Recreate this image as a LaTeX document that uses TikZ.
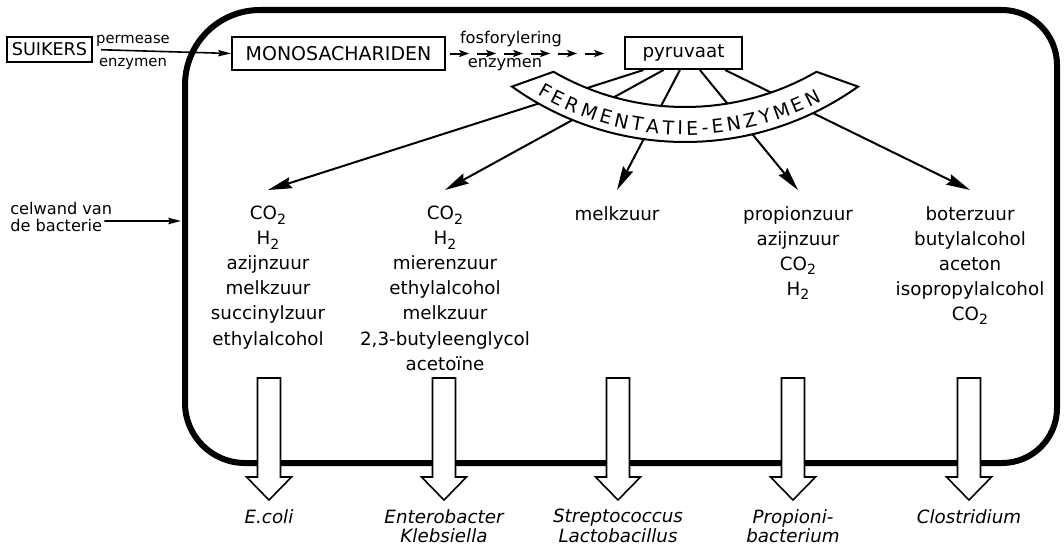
\documentclass[tikz,border=0pt]{standalone}
\usepackage{fontspec}
\setmainfont{DejaVu Sans}
\usepackage{tikz}
\usetikzlibrary{arrows.meta, decorations.text}
\newcommand{\twosub}{\raisebox{-0.45ex}{\fontsize{10}{10}\selectfont 2}}

\tikzset{
  box/.style={draw, line width=0.5mm, inner sep=0pt},
  smalltext/.style={inner sep=0pt, font=\fontsize{11.5}{12.5}\selectfont},
  coltext/.style={align=center, anchor=north, inner sep=0pt, font=\fontsize{13}{17.8}\selectfont},
  species/.style={align=center, anchor=north, inner sep=0pt, font=\fontsize{13}{13.8}\selectfont\itshape},
  fan/.style={line width=0.5mm, -{Stealth[length=17pt,width=8pt,inset=2pt]}},
  thinarrow/.style={line width=0.4mm, -{Stealth[length=9pt,width=4.5pt,inset=1pt]}},
  dasharrow/.style={line width=0.5mm, -{Stealth[length=7pt,width=5pt,inset=1.5pt]}},
  hollow/.style={line width=0.4mm, fill=white}
}

\begin{document}
\begin{tikzpicture}[x=0.025cm, y=0.025cm]
    \useasboundingbox (0,0) rectangle (1064,-546);

    % boxes on top
    \node[box, minimum width=2.125cm, minimum height=0.6cm, font=\fontsize{12.5}{13}\selectfont] (suik) at (49.5,-49.5) {SUIKERS};
    \node[box, minimum width=5.325cm, minimum height=0.825cm, font=\fontsize{13.5}{14}\selectfont] (mono) at (338.5,-53.5) {MONOSACHARIDEN};
    \node[box, minimum width=2.925cm, minimum height=0.8cm, font=\fontsize{13}{14}\selectfont] (pyr) at (683.5,-53) {pyruvaat};

    \draw[thinarrow, shorten <=0.2cm] (suik.east) -- (mono.west);
    \path (133,-41) node[smalltext, font=\fontsize{10.5}{11}\selectfont] (perm) {permease};
    \path (133,-64) node[smalltext, font=\fontsize{10.5}{11}\selectfont] (enz1) {enzymen};

    \foreach \i in {0,...,5}
    \draw[dasharrow] ([xshift=\i*0.675cm+0.1cm]mono.east) -- ++(0.475cm,0);
    \path (511,-39) node[smalltext] (fosf) {fosforylering};
    \path (505,-65) node[smalltext] (enz2) {enzymen};

    % products
    \node[coltext] (col1) at (268,-206) {CO\twosub\\H\twosub\\azijnzuur\\melkzuur\\succinylzuur\\ethylalcohol};
    \node[coltext] (col2) at (445,-206) {CO\twosub\\H\twosub\\mierenzuur\\ethylalcohol\\melkzuur\\2,3-butyleenglycol\\acetoïne};
    \node[coltext] (col3) at (617,-206) {melkzuur};
    \node[coltext] (col4) at (798,-206) {propionzuur\\azijnzuur\\CO\twosub\\H\twosub};
    \node[coltext] (col5) at (970,-206) {boterzuur\\butylalcohol\\aceton\\isopropylalcohol\\CO\twosub};

    \foreach \dx/\c in {-1.0/col1, -0.5/col2, -0.09/col3, 0.41/col4, 1.04/col5}
    \draw[fan] ([xshift=\dx cm]pyr.south) -- ([yshift=0.4cm]\c.north);

    % fermentatie band
    \coordinate (ctr) at (685,156);
    \draw[line width=0.5mm, fill=white] ([shift={(234.5:298)}]ctr) arc[start angle=234.5, end angle=305.5, radius=298]
        -- ([shift={(300:263)}]ctr) arc[start angle=300, end angle=240, radius=263] -- cycle;
    \path[decorate, decoration={text along path, text align={fit to path},
        text={|\fontsize{13.5}{13.5}\selectfont|FERMENTATIE-ENZYMEN}}]
        ([shift={(239.5:291)}]ctr) arc[start angle=239.5, end angle=298, radius=291];

    % celwand
    \draw[line width=1.5mm] (185,-300) -- (185,-85) arc[start angle=180, end angle=90, radius=75]
        -- (1002,-10) arc[start angle=90, end angle=0, radius=55]
        -- (1057,-408) arc[start angle=0, end angle=-90, radius=55]
        -- (245,-463) arc[start angle=270, end angle=180, radius=60] -- cycle;
    \node[smalltext, align=left, anchor=west, font=\fontsize{11.5}{12}\selectfont] (celw) at (10,-217) {celwand van\\de bacterie};
    \coordinate (wallpt) at (181,-221);
    \draw[thinarrow] ([xshift=-0.2cm,yshift=-0.1cm]celw.east) -- (wallpt);

    % excretion
    \foreach \x in {269,444,618,793,969}
    \draw[hollow] (\x-11.5,-378) -- (\x-11.5,-477) -- (\x-22.5,-477) -- (\x,-500)
        -- (\x+22.5,-477) -- (\x+11.5,-477) -- (\x+11.5,-378) -- cycle;

    \node[species] (sp1) at (269,-509) {E.coli};
    \node[species] (sp2) at (444,-509) {Enterobacter\\Klebsiella};
    \node[species] (sp3) at (618,-509) {Streptococcus\\Lactobacillus};
    \node[species] (sp4) at (793,-509) {Propioni-\\bacterium};
    \node[species] (sp5) at (969,-509) {Clostridium};
\end{tikzpicture}
\end{document}
